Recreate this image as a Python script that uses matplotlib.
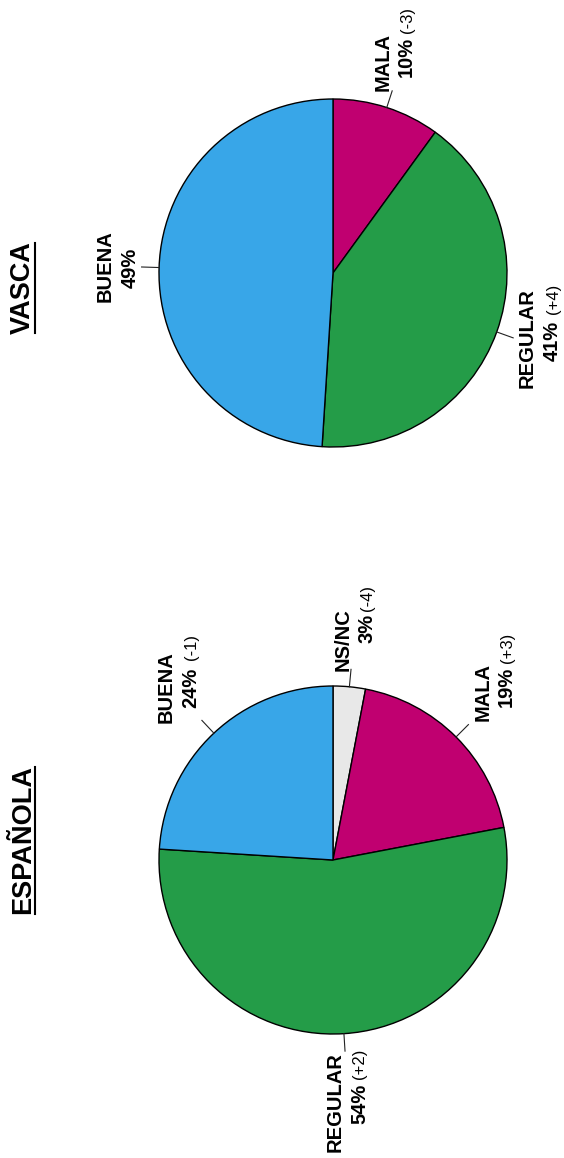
import math
import matplotlib
matplotlib.use("Agg")
import matplotlib.pyplot as plt

# ---------------- data ----------------
vasca_labels = ["MALA", "REGULAR", "BUENA"]
vasca_values = [10, 41, 49]
vasca_deltas = ["(-3)", "(+4)", ""]

esp_labels = ["NS/NC", "MALA", "REGULAR", "BUENA"]
esp_values = [3, 19, 54, 24]
esp_deltas = ["(-4)", "(+3)", "(+2)", "(-1)"]

titles = ["VASCA", "ESPAÑOLA"]

color_map = {"BUENA": "#38A6E8", "REGULAR": "#249C48",
             "MALA": "#C00070", "NS/NC": "#E8E8E8"}

# ---------------- layout ----------------
W, H = 564, 1158
plt.rcParams["font.family"] = ["Liberation Sans", "DejaVu Sans"]

fig = plt.figure(figsize=(W / 100, H / 100), dpi=100)
ax = fig.add_axes([0, 0, 1, 1])
ax.set_axis_off()


def P(x, y):
    return (x, H - y)


R = 174
pies = [
    dict(center=(333, 273), labels=vasca_labels, values=vasca_values,
         deltas=vasca_deltas, title=titles[0], title_pos=(23, 288),
         # name centre, pct centre, delta centre
         pos={"MALA": ((383, 62), (406, 57), (407, 20)),
              "REGULAR": ((527, 338), (552, 341), (553, 299)),
              "BUENA": ((105, 266), (130, 268), None)}),
    dict(center=(333, 860), labels=esp_labels, values=esp_values,
         deltas=esp_deltas, title=titles[1], title_pos=(23, 840),
         pos={"NS/NC": ((343, 640), (367, 628), (367, 598)),
              "MALA": ((483, 692), (506, 687), (507, 648)),
              "REGULAR": ((335, 1102), (360, 1104), (360, 1064)),
              "BUENA": ((166, 687), (191, 688), (192, 647))}),
]

title_texts = []
for p in pies:
    cx, cy = P(*p["center"])
    ax.pie(p["values"], colors=[color_map[l] for l in p["labels"]],
           startangle=90, counterclock=False, radius=R, center=(cx, cy),
           wedgeprops=dict(edgecolor="black", linewidth=1.0))
    total = sum(p["values"])
    cum = 0
    for lab, v, d in zip(p["labels"], p["values"], p["deltas"]):
        mid = 90 - 360 * (cum + v / 2) / total
        cum += v
        a = math.radians(mid)
        x0, y0 = cx + R * math.cos(a), cy + R * math.sin(a)
        x1, y1 = cx + (R + 17.5) * math.cos(a), cy + (R + 17.5) * math.sin(a)
        ax.plot([x0, x1], [y0, y1], color="#222222", lw=0.8)
        npos, ppos, dpos = p["pos"][lab]
        ax.text(*P(*npos), lab, rotation=90, ha="center", va="center",
                fontsize=14.5, fontweight="bold")
        ax.text(*P(*ppos), f"{v}%", rotation=90, ha="center", va="center",
                fontsize=14.5, fontweight="bold")
        if d and dpos is not None:
            ax.text(*P(*dpos), d, rotation=90, ha="center", va="center",
                    fontsize=12)
    t = ax.text(*P(*p["title_pos"]), p["title"], rotation=90, ha="center",
                va="center", fontsize=19.5, fontweight="bold")
    title_texts.append(t)

ax.set_xlim(0, W)
ax.set_ylim(0, H)
ax.set_aspect("equal")

fig.canvas.draw()
renderer = fig.canvas.get_renderer()
inv = ax.transData.inverted()
for t in title_texts:
    bb = t.get_window_extent(renderer)
    (_, ya), (_, yb) = inv.transform([(bb.x0, bb.y0), (bb.x1, bb.y1)])
    xu = t.get_position()[0] + 11.5
    ax.plot([xu, xu], [ya + 1, yb - 1], color="black", lw=1.5)

fig.savefig("out.png", dpi=100)
